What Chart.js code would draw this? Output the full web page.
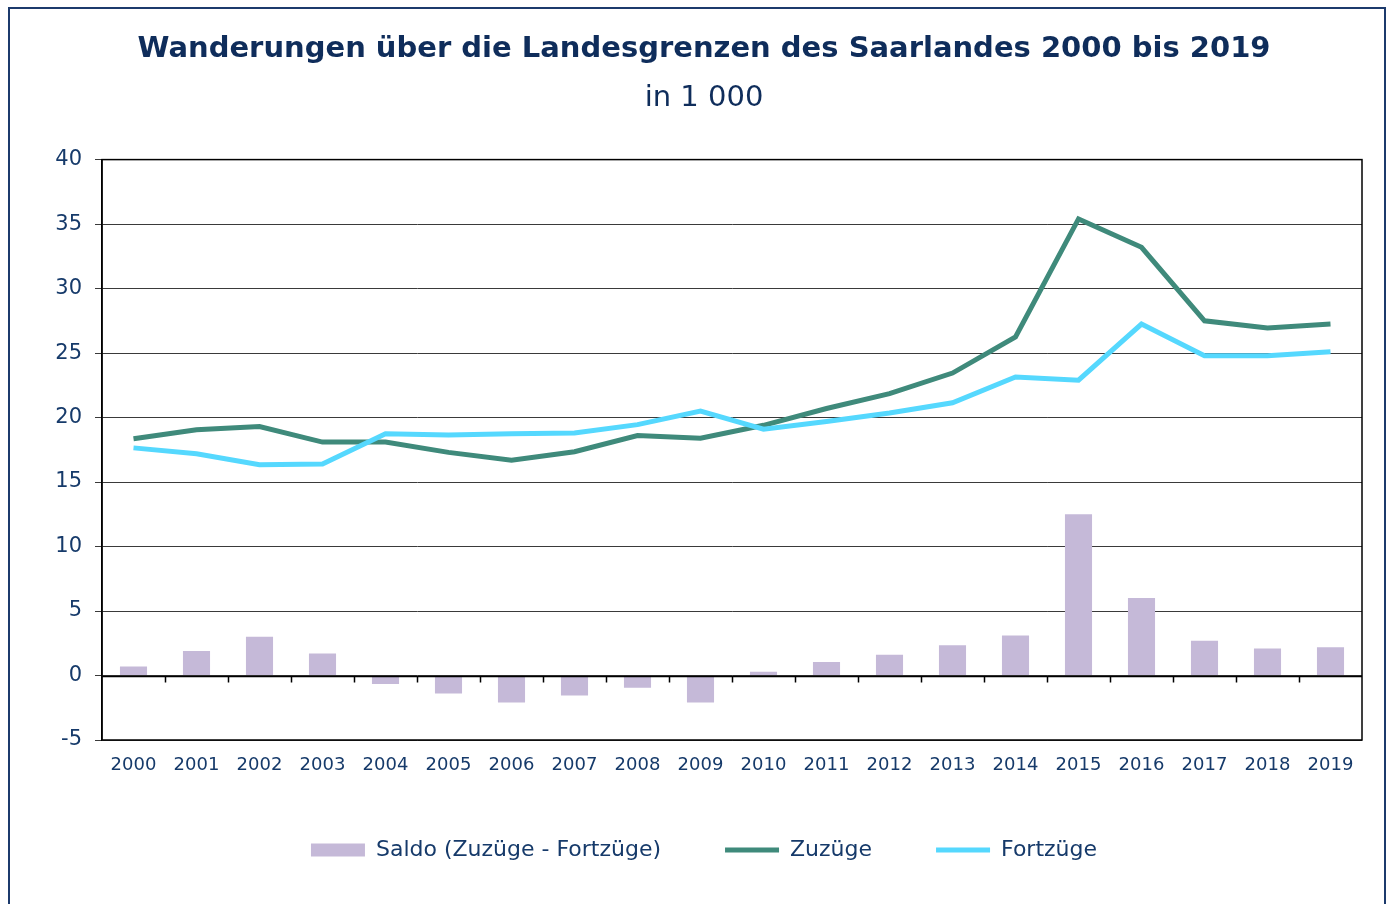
<!DOCTYPE html>
<html lang="de">
<head>
<meta charset="utf-8">
<title>Wanderungen Saarland 2000 bis 2019</title>
<script src="https://cdn.jsdelivr.net/npm/chart.js@4.4.1/dist/chart.umd.min.js"></script>
<style>
  html, body { margin: 0; padding: 0; background: #ffffff; }
  #frame {
    position: absolute; left: 8px; top: 7px; width: 1374px; height: 920px;
    border: 2px solid #1c3a6c; box-sizing: content-box;
  }
  #wrap { position: absolute; left: 0; top: 0; width: 1391px; height: 904px; }
</style>
</head>
<body>
<div id="frame"></div>
<div id="wrap"><canvas id="migrationChart" width="1391" height="904"></canvas></div>
<script>
const years = ["2000", "2001", "2002", "2003", "2004", "2005", "2006", "2007", "2008", "2009",
  "2010", "2011", "2012", "2013", "2014", "2015", "2016", "2017", "2018", "2019"];
const saldo = [0.7, 1.9, 3.0, 1.7, -0.65, -1.4, -2.1, -1.55, -0.95, -2.1,
  0.3, 1.05, 1.6, 2.35, 3.1, 12.5, 6.0, 2.7, 2.1, 2.2];
const zuzuege = [18.35, 19.05, 19.3, 18.1, 18.1, 17.3, 16.7, 17.35, 18.6, 18.4,
  19.4, 20.7, 21.85, 23.45, 26.25, 35.4, 33.2, 27.5, 26.95, 27.25];
const fortzuege = [17.65, 17.2, 16.35, 16.4, 18.75, 18.65, 18.75, 18.8, 19.45, 20.5,
  19.1, 19.7, 20.35, 21.15, 23.15, 22.9, 27.25, 24.8, 24.8, 25.1];
const yTicks = [-5, 0, 5, 10, 15, 20, 25, 30, 35, 40];

const navy = "#163a6a";
const fontFamily = "'DejaVu Sans', Verdana, sans-serif";

// frame round the plot area and small ticks on the zero line
const plotFrame = {
  id: "plotFrame",
  afterDatasetsDraw(chart) {
    const { ctx, chartArea, scales } = chart;
    const y0 = Math.round(scales.y.getPixelForValue(0)) + 0.5;
    ctx.save();
    ctx.strokeStyle = "#000000";
    ctx.lineWidth = 1.5;
    ctx.beginPath();
    ctx.moveTo(chartArea.left, y0);
    ctx.lineTo(chartArea.right, y0);
    for (let i = 1; i < years.length; i++) {
      const x = Math.round((scales.x.getPixelForValue(i - 1) + scales.x.getPixelForValue(i)) / 2) + 0.5;
      ctx.moveTo(x, y0);
      ctx.lineTo(x, y0 + 6);
    }
    ctx.stroke();
    ctx.strokeRect(chartArea.left, chartArea.top, chartArea.right - chartArea.left, chartArea.bottom - chartArea.top);
    ctx.restore();
  },
};

function buildLegendLabels(chart) {
  const items = Chart.defaults.plugins.legend.labels.generateLabels(chart);
  return items.map((item) => {
    const ds = chart.data.datasets[item.datasetIndex];
    if (ds.type === "bar") {
      return { ...item, pointStyle: "rect", lineWidth: 0, fillStyle: ds.backgroundColor };
    }
    return { ...item, pointStyle: "line", lineWidth: 5, strokeStyle: ds.borderColor };
  });
}

const ctx = document.getElementById("migrationChart").getContext("2d");
new Chart(ctx, {
  data: {
    labels: years,
    datasets: [
      {
        type: "bar",
        label: "Saldo (Zuzüge - Fortzüge)",
        data: saldo,
        backgroundColor: "#c5b9d8",
        borderWidth: 0,
        barPercentage: 0.43,
        categoryPercentage: 1,
        order: 3,
      },
      {
        type: "line",
        label: "Zuzüge",
        data: zuzuege,
        borderColor: "#3f8a7b",
        backgroundColor: "#3f8a7b",
        borderWidth: 5,
        pointRadius: 0,
        tension: 0,
        order: 2,
      },
      {
        type: "line",
        label: "Fortzüge",
        data: fortzuege,
        borderColor: "#55d8fe",
        backgroundColor: "#55d8fe",
        borderWidth: 5,
        pointRadius: 0,
        tension: 0,
        order: 1,
      },
    ],
  },
  options: {
    responsive: false,
    animation: false,
    layout: { padding: { left: 17, right: 0, top: 0, bottom: 33 } },
    plugins: {
      title: {
        display: true,
        text: "Wanderungen über die Landesgrenzen des Saarlandes 2000 bis 2019",
        color: "#0f2d5b",
        font: { family: fontFamily, size: 29, weight: "bold", lineHeight: 1.2 },
        padding: { top: 32, bottom: 0 },
      },
      subtitle: {
        display: true,
        text: "in 1 000",
        color: "#0f2d5b",
        font: { family: fontFamily, size: 29, weight: "normal", lineHeight: 1.2 },
        padding: { top: 14, bottom: 44 },
      },
      legend: {
        position: "bottom",
        labels: {
          usePointStyle: true,
          pointStyleWidth: 54,
          boxHeight: 13,
          padding: 64,
          color: navy,
          font: { family: fontFamily, size: 22 },
          generateLabels: buildLegendLabels,
          sort: (a, b) => a.datasetIndex - b.datasetIndex,
        },
      },
      tooltip: { enabled: false },
    },
    scales: {
      x: {
        grid: { display: false, drawTicks: false },
        border: { display: false },
        ticks: {
          color: navy,
          padding: 15,
          font: { family: fontFamily, size: 18 },
          maxRotation: 0,
        },
        afterFit: (scale) => { scale.height = 35; },
      },
      y: {
        min: -5,
        max: 40,
        afterBuildTicks: (scale) => { scale.ticks = yTicks.map((v) => ({ value: v })); },
        grid: { color: "#3a3a3a", lineWidth: 1, drawTicks: true, tickLength: 7 },
        border: { color: "#000000", width: 1.5 },
        ticks: {
          color: navy,
          padding: 13,
          font: { family: fontFamily, size: 21 },
        },
        afterFit: (scale) => { scale.width = 85; },
      },
      gap: {
        type: "linear",
        position: "right",
        grid: { display: false, drawTicks: false },
        border: { display: false },
        ticks: { display: false },
        afterFit: (scale) => { scale.width = 29; },
      },
    },
  },
  plugins: [plotFrame],
});
</script>
</body>
</html>
